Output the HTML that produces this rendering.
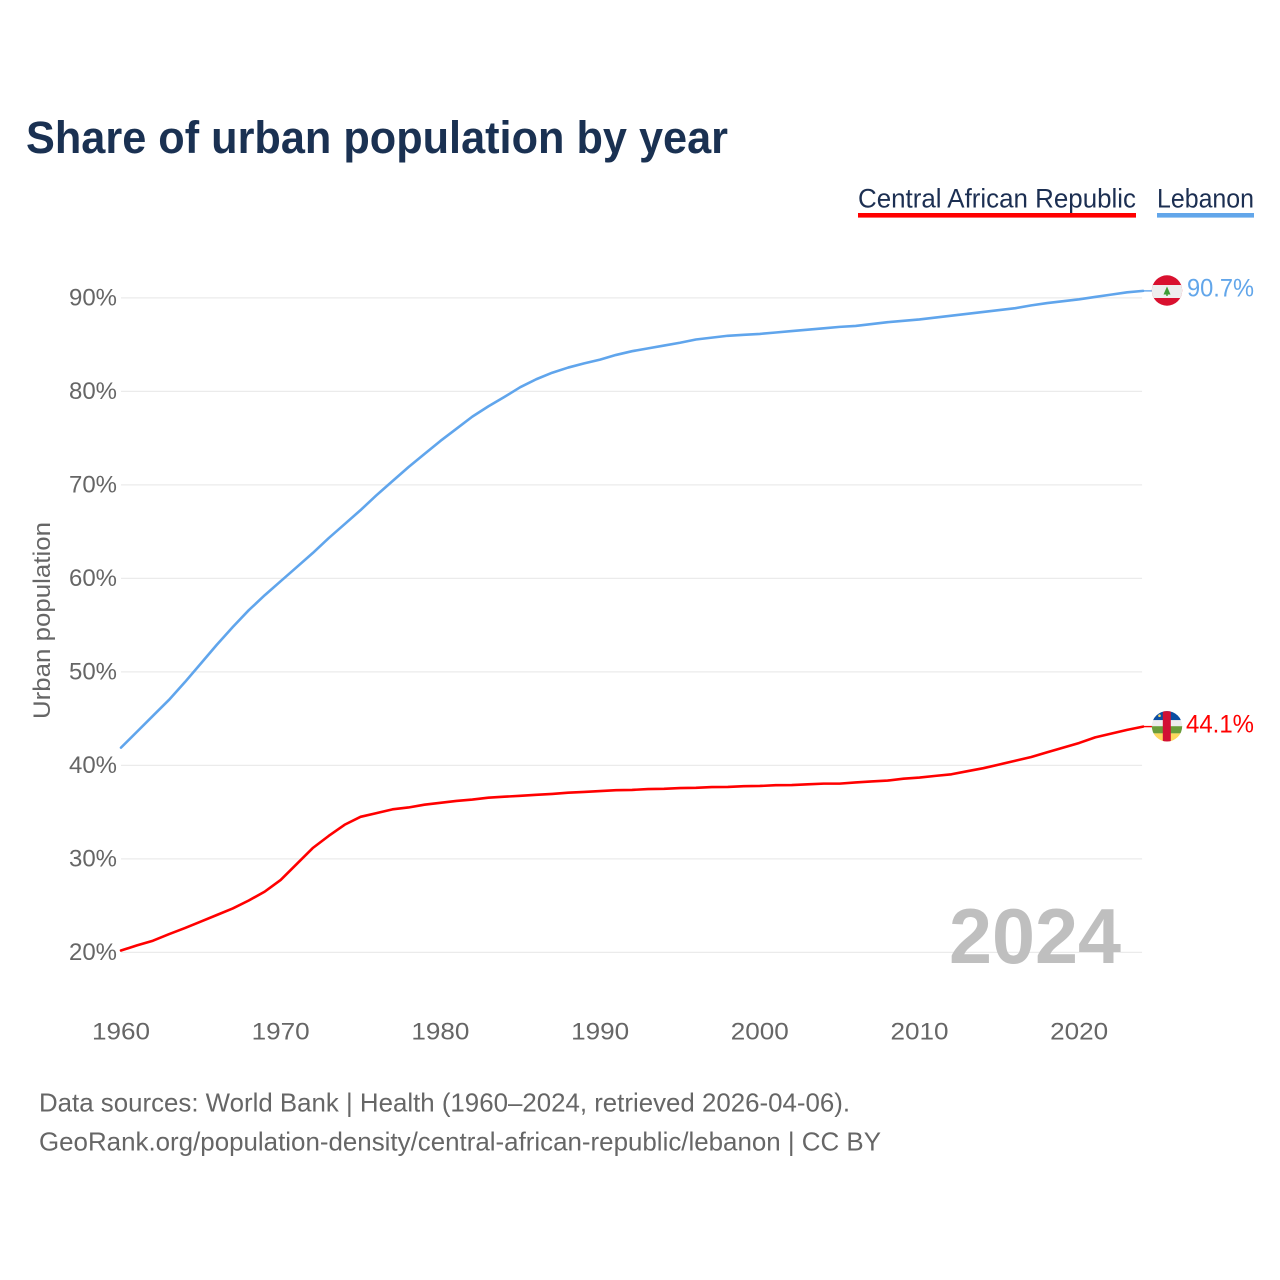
<!DOCTYPE html>
<html lang="en">
<head>
<meta charset="utf-8">
<title>Share of urban population by year</title>
<style>
html,body{margin:0;padding:0;background:#fff;}
svg{display:block;font-family:"Liberation Sans",sans-serif;}
</style>
</head>
<body>
<svg id="chart" xmlns="http://www.w3.org/2000/svg" width="1280" height="1280" viewBox="0 0 1280 1280">
  <defs>
    <clipPath id="lb-clip"><circle cx="1167" cy="290.5" r="15.2"/></clipPath>
    <clipPath id="cf-clip"><circle cx="1167" cy="726.3" r="15.2"/></clipPath>
  </defs>
  <rect x="0" y="0" width="1280" height="1280" fill="#ffffff"/>
  <text x="26" y="153" font-size="45" font-weight="700" fill="#1a3152" textLength="702" lengthAdjust="spacingAndGlyphs">Share of urban population by year</text>

  <g>
    <text x="858" y="207.5" font-size="27" fill="#1c2f52" textLength="278" lengthAdjust="spacingAndGlyphs">Central African Republic</text>
    <rect x="858" y="213" width="278" height="4.6" fill="#ff0000"/>
  </g>
  <g>
    <text x="1157" y="207.5" font-size="27" fill="#1c2f52" textLength="97" lengthAdjust="spacingAndGlyphs">Lebanon</text>
    <rect x="1157" y="213" width="97" height="4.6" fill="#62a6ea"/>
  </g>

  <g id="grid"></g>
  <g id="y-ticks"></g>
  <g id="x-ticks"></g>
  <text transform="translate(50,620.5) rotate(-90)" text-anchor="middle" font-size="24" fill="#666666" textLength="197" lengthAdjust="spacingAndGlyphs">Urban population</text>

  <text x="949" y="963" font-size="78" font-weight="700" fill="#bfbfbf" textLength="172" lengthAdjust="spacingAndGlyphs">2024</text>

  <g id="series"></g>

  <g clip-path="url(#lb-clip)">
    <rect x="1150" y="274" width="34" height="34" fill="#d9112f"/>
    <rect x="1150" y="285" width="34" height="13" fill="#eeeeee"/>
    <polygon points="1167,286.5 1170.5,294.5 1163.5,294.5" fill="#3f9c35"/>
    <rect x="1166.3" y="294" width="1.4" height="2" fill="#3f9c35"/>
  </g>
  <g clip-path="url(#cf-clip)">
    <rect x="1150" y="710" width="34" height="10.2" fill="#0b4ea2"/>
    <rect x="1150" y="720.2" width="34" height="6" fill="#eeeeee"/>
    <rect x="1150" y="726.2" width="34" height="7.2" fill="#6a9d3a"/>
    <rect x="1150" y="733.4" width="34" height="9" fill="#fdd85d"/>
    <rect x="1162.8" y="710" width="8" height="33" fill="#d21034"/>
    <circle cx="1159.5" cy="715.7" r="1.3" fill="#fdd85d"/>
  </g>

  <text id="end-label-lebanon" x="1187" y="296.5" font-size="25" fill="#62a6ea" textLength="67" lengthAdjust="spacingAndGlyphs"></text>
  <text id="end-label-car" x="1186" y="732.5" font-size="25" fill="#ff0000" textLength="68" lengthAdjust="spacingAndGlyphs"></text>

  <text x="39" y="1111.5" font-size="26" fill="#666666" textLength="811" lengthAdjust="spacingAndGlyphs">Data sources: World Bank | Health (1960–2024, retrieved 2026-04-06).</text>
  <text x="39" y="1150.5" font-size="26" fill="#666666" textLength="842" lengthAdjust="spacingAndGlyphs">GeoRank.org/population-density/central-african-republic/lebanon | CC BY</text>
</svg>
<script>
const startYear = 1960;
const yTickValues = [20, 30, 40, 50, 60, 70, 80, 90];
const xTickValues = [1960, 1970, 1980, 1990, 2000, 2010, 2020];
const lebanonValues = [41.9,43.6,45.3,47.0,48.9,50.9,52.9,54.8,56.6,58.2,59.7,61.2,62.7,64.3,65.8,67.3,68.9,70.4,71.9,73.3,74.7,76.0,77.3,78.4,79.4,80.45,81.3,82.0,82.55,83.0,83.4,83.9,84.3,84.6,84.9,85.2,85.55,85.75,85.95,86.05,86.15,86.3,86.45,86.6,86.75,86.9,87.0,87.2,87.4,87.55,87.7,87.9,88.1,88.3,88.5,88.7,88.9,89.2,89.45,89.65,89.85,90.1,90.35,90.6,90.75];
const carValues = [20.2,20.75,21.25,21.95,22.6,23.3,24.0,24.7,25.55,26.5,27.75,29.45,31.15,32.45,33.65,34.5,34.9,35.3,35.5,35.8,36.0,36.2,36.35,36.55,36.65,36.75,36.85,36.95,37.08,37.16,37.25,37.35,37.38,37.47,37.5,37.58,37.6,37.68,37.7,37.78,37.8,37.88,37.9,37.98,38.05,38.05,38.18,38.28,38.38,38.58,38.7,38.88,39.05,39.38,39.7,40.1,40.5,40.9,41.4,41.9,42.4,43.0,43.4,43.8,44.15];
const lebanonEndLabel = "90.7%";
const carEndLabel = "44.1%";

const SVG_NS = "http://www.w3.org/2000/svg";
function xScale(year) { return 121 + (year - 1960) * 15.97; }
function yScale(value) { return 297.9 + (90 - value) * 9.35; }

function makeEl(tag, attrs) {
  const el = document.createElementNS(SVG_NS, tag);
  for (const k in attrs) el.setAttribute(k, attrs[k]);
  return el;
}

const gridGroup = document.getElementById("grid");
const yTickGroup = document.getElementById("y-ticks");
yTickValues.forEach(function (v) {
  const line = makeEl("line", { x1: 121, x2: xScale(2024) - 1, y1: yScale(v), y2: yScale(v), stroke: "#ebebeb", "stroke-width": 1.2 });
  
  
  gridGroup.appendChild(line);
  const label = makeEl("text", { x: 117, y: yScale(v) + 7.8, "text-anchor": "end", "font-size": 24, fill: "#666666", textLength: 48, lengthAdjust: "spacingAndGlyphs" });
  
  
  label.textContent = v + "%";
  yTickGroup.appendChild(label);
});

const xTickGroup = document.getElementById("x-ticks");
xTickValues.forEach(function (yr) {
  const label = makeEl("text", { x: xScale(yr), y: 1039.5, "text-anchor": "middle", "font-size": 24, fill: "#666666", textLength: 58, lengthAdjust: "spacingAndGlyphs" });
  
  
  label.textContent = yr;
  xTickGroup.appendChild(label);
});

const seriesGroup = document.getElementById("series");
function drawSeries(values, color, name) {
  const d = values.map(function (v, i) {
    return (i ? "L" : "M") + xScale(startYear + i).toFixed(2) + " " + yScale(v).toFixed(2);
  }).join(" ");
  const path = makeEl("path", { d: d, fill: "none", stroke: color, "stroke-width": 2.6, "stroke-linejoin": "round", "stroke-linecap": "round" });
  
  
  seriesGroup.appendChild(path);
  const lastX = xScale(startYear + values.length - 1);
  const lastY = yScale(values[values.length - 1]);
  const connector = makeEl("line", { x1: lastX, x2: lastX + 9, y1: lastY, y2: lastY, stroke: color, "stroke-width": 1.4 });
  
  
  seriesGroup.appendChild(connector);
}
drawSeries(carValues, "#ff0000", "line-central-african-republic");
drawSeries(lebanonValues, "#60a5ec", "line-lebanon");

document.getElementById("end-label-lebanon").textContent = lebanonEndLabel;
document.getElementById("end-label-car").textContent = carEndLabel;
</script>
</body>
</html>
